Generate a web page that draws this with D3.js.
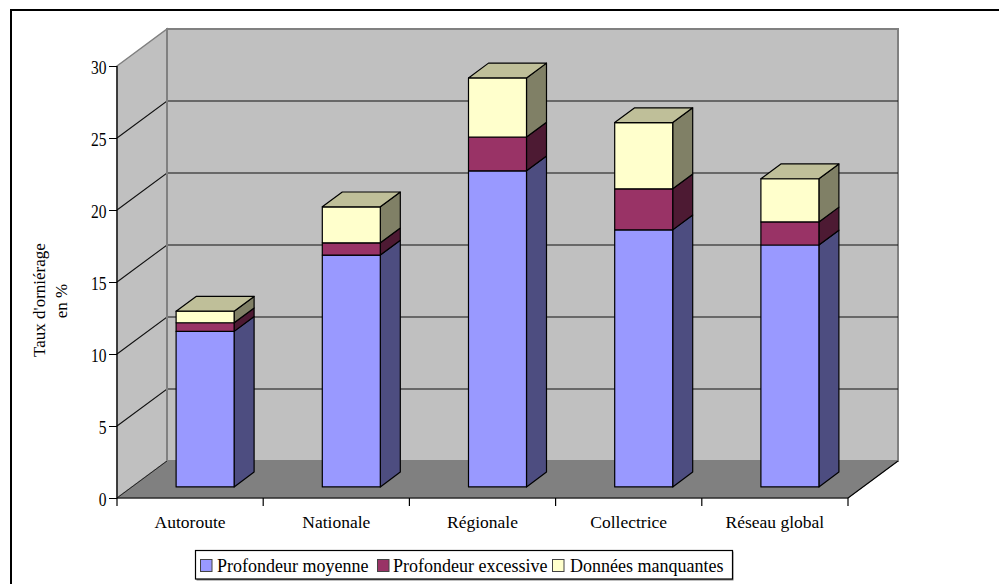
<!DOCTYPE html>
<html><head><meta charset="utf-8">
<script src="https://cdn.jsdelivr.net/npm/d3@7/dist/d3.min.js"></script>
<style>html,body{margin:0;background:#fff}svg{display:block}text{font-family:"Liberation Serif",serif;fill:#000}</style>
</head><body><svg id="c" width="999" height="584"></svg>
<script>
const categories=["Autoroute","Nationale","Régionale","Collectrice","Réseau global"];
const seriesNames=["Profondeur moyenne","Profondeur excessive","Données manquantes"];
const moyenne=[10.8,16.1,21.95,17.85,16.8];
const excessive=[0.6,0.85,2.35,2.85,1.6];
const manquantes=[0.8,2.5,4.1,4.6,3.0];
const yTicks=[0,5,10,15,20,25,30];
const faceColors=["#9999ff","#993366","#ffffcc"];
const sideColors=["#4d4d80","#4d1a33","#808066"];
const topColors=["#73739f","#73264d","#bfbf99"];

const svg=d3.select("#c");
const y=d3.scaleLinear().domain([0,30]).range([498,66]);
const x=d3.scaleBand().domain(categories).range([117,848]);
// projection of chart depth (0 = front, 1 = back wall)
const depth=d3.scaleLinear().domain([0,1]).range([0,50]);
const lift=d3.scaleLinear().domain([0,1]).range([0,-37]);
const path=pts=>"M"+pts.map(p=>p.join(",")).join("L")+"Z";
const X0=x.range()[0],X1=x.range()[1],DX=depth(1),DY=lift(1);

// frame: top and left edges only
svg.append("path").attr("d","M11,584V10H999").attr("fill","none").attr("stroke","#000").attr("stroke-width",2);

// walls and floor
svg.append("path").attr("d",path([[X0+DX,y(30)+DY],[X1+DX,y(30)+DY],[X1+DX,y(0)+DY],[X0+DX,y(0)+DY]])).attr("fill","#c0c0c0").attr("stroke","#808080").attr("stroke-width",2);
svg.append("path").attr("d",path([[X0,y(30)],[X0+DX,y(30)+DY],[X0+DX,y(0)+DY],[X0,y(0)]])).attr("fill","#c0c0c0").attr("stroke","#808080").attr("stroke-width",1.5);
svg.append("path").attr("d",path([[X0,y(0)],[X0+DX,y(0)+DY],[X1+DX,y(0)+DY],[X1,y(0)]])).attr("fill","#808080").attr("stroke","#808080");
svg.append("line").attr("x1",X1).attr("y1",y(0)).attr("x2",X1+DX).attr("y2",y(0)+DY).attr("stroke","#000").attr("stroke-width",1.1);
svg.append("line").attr("x1",X0).attr("y1",y(0)).attr("x2",X0+DX).attr("y2",y(0)+DY).attr("stroke","#222").attr("stroke-width",1);

// gridlines across both walls
yTicks.filter(t=>t>0&&t<30).forEach(t=>{
  svg.append("path").attr("fill","none").attr("stroke","#111").attr("stroke-width",1.1)
    .attr("d",`M${X0},${y(t)}L${X0+DX},${y(t)+DY}L${X1+DX},${y(t)+DY}`);
});
svg.append("line").attr("x1",X0+DX).attr("x2",X0+DX).attr("y1",y(30)+DY).attr("y2",y(0)+DY).attr("stroke","#808080").attr("stroke-width",2);

// stacked prisms
const stack=d3.stack().keys([0,1,2]).value((d,k)=>d[k]);
const rows=categories.map((c,i)=>[moyenne[i],excessive[i],manquantes[i]]);
const layers=stack(rows);
const barW=58,dStart=0.3,dLen=0.4;
const bx=i=>x(categories[i])+(x.bandwidth()-barW)/2+depth(dStart);
const by=v=>y(v)+lift(dStart);
const sx=depth(dLen),sy=lift(dLen);
const g=svg.append("g").attr("stroke","#000").attr("stroke-width",1.2).attr("stroke-linejoin","round");
categories.forEach((c,i)=>{
  layers.forEach((l,k)=>{
    const [a,b]=l[i],x0=bx(i),x1=x0+barW,ya=by(a),yb=by(b);
    g.append("path").attr("fill",sideColors[k]).attr("d",path([[x1,ya],[x1+sx,ya+sy],[x1+sx,yb+sy],[x1,yb]]));
    g.append("path").attr("fill",faceColors[k]).attr("d",path([[x0,ya],[x1,ya],[x1,yb],[x0,yb]]));
    if(k===2) g.append("path").attr("fill",topColors[k]).attr("d",path([[x0,yb],[x0+sx,yb+sy],[x1+sx,yb+sy],[x1,yb]]));
  });
});

// axes at the front edge
const ya=svg.append("g").attr("transform",`translate(${X0},0)`).call(d3.axisLeft(y).tickValues(yTicks).tickSize(8));
ya.select(".domain").attr("stroke","#000").attr("stroke-width",1.2).attr("d",`M0,${y(30)}V${y(0)}`);
ya.selectAll("text").attr("x",0).attr("y",2).attr("font-size",18.5).attr("transform","translate(-10.5,0) scale(0.84,1)");
const xa=svg.append("g").attr("transform",`translate(0,${y(0)})`).call(d3.axisBottom(x).tickSize(0).tickPadding(0));
xa.select(".domain").attr("stroke","#000").attr("stroke-width",1.2).attr("d",`M${X0},0H${X1}`);
xa.selectAll("text").attr("font-size",17.5).attr("dy",0).attr("y",30);
const edges=d3.range(categories.length).map(i=>x(categories[i])).concat([X1]);
xa.selectAll(".edge").data(edges).enter().append("line").attr("x1",d=>d).attr("x2",d=>d).attr("y1",0).attr("y2",8).attr("stroke","#000").attr("stroke-width",1.2);

// vertical axis title
const title=svg.append("text").attr("transform","translate(45,300) rotate(-90)").attr("text-anchor","middle").attr("font-size",17);
title.append("tspan").attr("x",0).attr("y",0).text("Taux d'orniérage");
title.append("tspan").attr("x",-1).attr("y",21.5).text("en %");

// legend with its soft lower-right shadow
const lg=svg.append("g");
lg.append("rect").attr("x",196.5).attr("y",551.5).attr("width",537).attr("height",29).attr("fill","#808080");
lg.append("rect").attr("x",195.5).attr("y",550.5).attr("width",537).attr("height",28.5).attr("fill","#fff").attr("stroke","#000").attr("stroke-width",1.2);
const swX=[200.5,377.5,552.5],txX=[217,393,570];
seriesNames.forEach((n,k)=>{
  lg.append("rect").attr("x",swX[k]).attr("y",559.5).attr("width",11.5).attr("height",12).attr("fill",faceColors[k]).attr("stroke","#444");
  lg.append("text").attr("x",txX[k]).attr("y",572).attr("font-size",18).text(n);
});
</script></body></html>
